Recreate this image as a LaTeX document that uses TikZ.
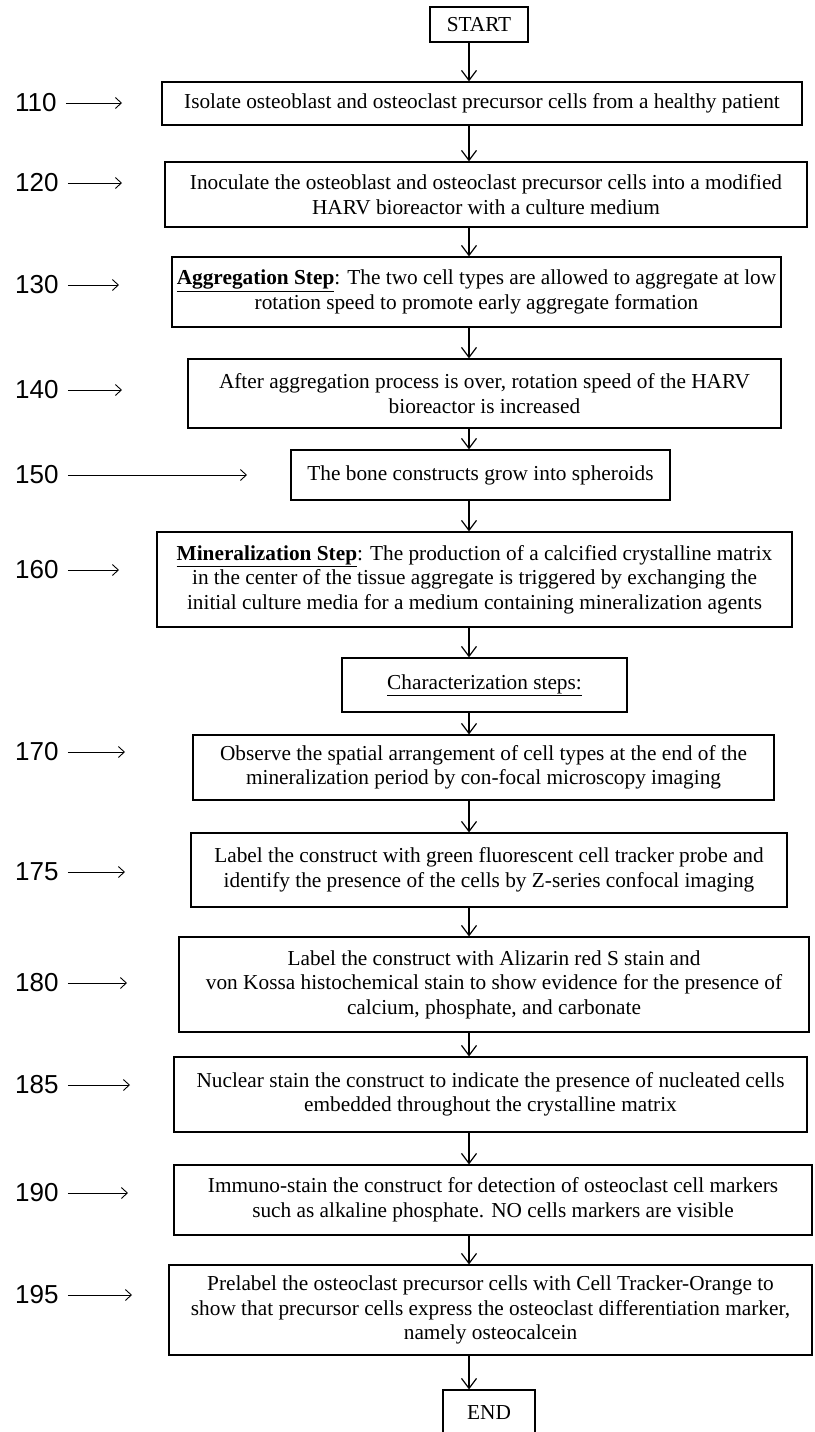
\documentclass[tikz,border=0pt]{standalone}
\usepackage{fontspec}
\setmainfont{Liberation Serif}
\newfontfamily\hand{Liberation Sans}
\usetikzlibrary{arrows.meta}

\begin{document}
\begin{tikzpicture}[x=1pt,y=-1pt,
    box/.style={draw,rectangle,line width=1.2pt,align=center,inner sep=0pt,
      font=\fontsize{21.3}{24.5}\selectfont},
    ref/.style={anchor=west,inner sep=0pt,font=\hand\fontsize{26}{26}\selectfont},
    flow/.style={-{Straight Barb[length=10pt,width=15pt]},line width=1.2pt},
    point/.style={-{Straight Barb[length=6pt,width=11pt]},line width=0.9pt,shorten <=9pt}]
  \useasboundingbox (0,0) rectangle (814,1432);
  \coordinate (axis) at (469,0);

  \node[box,minimum width=98,minimum height=35] (start) at (479,24.5) {START};
  \node[box,minimum width=640,minimum height=43] (s110) at (482,103.5)
    {Isolate osteoblast and osteoclast precursor cells from a healthy patient};
  \node[box,minimum width=642,minimum height=65] (s120) at (486,194.5)
    {Inoculate the osteoblast and osteoclast precursor cells into a modified\\
     HARV bioreactor with a culture medium};
  \node[box,minimum width=609,minimum height=70] (s130) at (476.5,292)
    {\underline{\textbf{Aggregation Step}}: The two cell types are allowed to aggregate at low\\
     rotation speed to promote early aggregate formation};
  \node[box,minimum width=593,minimum height=69] (s140) at (484.5,393.5)
    {After aggregation process is over, rotation speed of the HARV\\
     bioreactor is increased};
  \node[box,minimum width=379,minimum height=50] (s150) at (480.5,475)
    {The bone constructs grow into spheroids};
  \node[box,minimum width=635,minimum height=95] (s160) at (474.5,579.5)
    {\underline{\textbf{Mineralization Step}}: The production of a calcified crystalline matrix\\
     in the center of the tissue aggregate is triggered by exchanging the\\
     initial culture media for a medium containing mineralization agents};
  \node[box,minimum width=285,minimum height=54] (chars) at (484.5,685)
    {\underline{Characterization steps:}};
  \node[box,minimum width=581,minimum height=65] (s170) at (483.5,767.5)
    {Observe the spatial arrangement of cell types at the end of the\\
     mineralization period by con-focal microscopy imaging};
  \node[box,minimum width=596,minimum height=74] (s175) at (489,870)
    {Label the construct with green fluorescent cell tracker probe and\\
     identify the presence of the cells by Z-series confocal imaging};
  \node[box,minimum width=630,minimum height=95] (s180) at (494,984.5)
    {Label the construct with Alizarin red S stain and\\
     von Kossa histochemical stain to show evidence for the presence of\\
     calcium, phosphate, and carbonate};
  \node[box,minimum width=633,minimum height=75] (s185) at (490.5,1094.5)
    {Nuclear stain the construct to indicate the presence of nucleated cells\\
     embedded throughout the crystalline matrix};
  \node[box,minimum width=638,minimum height=70] (s190) at (493,1200)
    {Immuno-stain the construct for detection of osteoclast cell markers\\
     such as alkaline phosphate. NO cells markers are visible};
  \node[box,minimum width=643,minimum height=90] (s195) at (490.5,1310)
    {Prelabel the osteoclast precursor cells with Cell Tracker-Orange to\\
     show that precursor cells express the osteoclast differentiation marker,\\
     namely osteocalcein};
  \node[box,minimum width=92,minimum height=46] (end) at (489,1413) {END};

  % step numbers
  \foreach \n/\y/\e in {110/103/122,120/183/122,130/285/119,140/390/122,
      150/475/247,160/570/119,170/752/125,175/872/125,180/983/127,
      185/1085/130,190/1193/128,195/1295/132}{
    \node[ref] (n\n) at (15,\y) {\n};
    \coordinate (p\n) at (\e,\y);
    \draw[point] (n\n.east) -- (p\n);
  }

  \begin{scope}[flow]
    \draw (start.south -| axis) to (s110.north -| axis);
    \draw (s110.south -| axis) to (s120.north -| axis);
    \draw (s120.south -| axis) to (s130.north -| axis);
    \draw (s130.south -| axis) to (s140.north -| axis);
    \draw (s140.south -| axis) to (s150.north -| axis);
    \draw (s150.south -| axis) to (s160.north -| axis);
    \draw (s160.south -| axis) to (chars.north -| axis);
    \draw (chars.south -| axis) to (s170.north -| axis);
    \draw (s170.south -| axis) to (s175.north -| axis);
    \draw (s175.south -| axis) to (s180.north -| axis);
    \draw (s180.south -| axis) to (s185.north -| axis);
    \draw (s185.south -| axis) to (s190.north -| axis);
    \draw (s190.south -| axis) to (s195.north -| axis);
    \draw (s195.south -| axis) to (end.north -| axis);
  \end{scope}
\end{tikzpicture}
\end{document}
